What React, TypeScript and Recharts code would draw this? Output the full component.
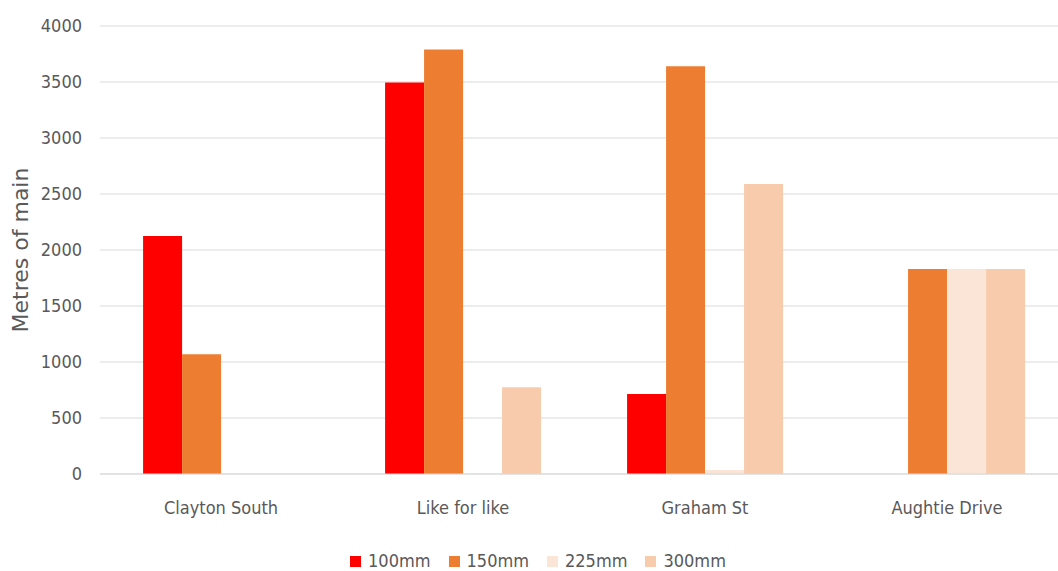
import { BarChart, Bar, XAxis, YAxis, CartesianGrid, Legend } from "recharts";

const sites = ["Clayton South", "Like for like", "Graham St", "Aughtie Drive"];
const mm100 = [2125, 3495, 715, 0];
const mm150 = [1070, 3790, 3640, 1830];
const mm225 = [0, 0, 35, 1830];
const mm300 = [0, 775, 2590, 1830];
const yTicks = [0, 500, 1000, 1500, 2000, 2500, 3000, 3500, 4000];

const series = [
  { key: "100mm", color: "#FF0000" },
  { key: "150mm", color: "#ED7D31" },
  { key: "225mm", color: "#FBE5D6" },
  { key: "300mm", color: "#F8CBAD" },
];

const data = sites.map((name, i) => ({
  name,
  "100mm": mm100[i],
  "150mm": mm150[i],
  "225mm": mm225[i],
  "300mm": mm300[i],
}));

const font = "'DejaVu Sans Condensed', 'DejaVu Sans', sans-serif";

function LegendBox({ payload }: any) {
  return (
    <div style={{ height: 40, paddingTop: 20, paddingLeft: 8, boxSizing: "border-box", display: "flex", justifyContent: "center", fontFamily: font, fontSize: 18, color: "#595959", lineHeight: "22px" }}>
      {(payload || []).map((p: any, i: number) => (
        <div key={p.value} style={{ display: "flex", alignItems: "center", marginLeft: i ? 18 : 0 }}>
          <span style={{ width: 11, height: 11, background: p.color, display: "inline-block", marginRight: 7 }} />
          <span>{p.value}</span>
        </div>
      ))}
    </div>
  );
}

function YLabel({ viewBox }: any) {
  const cy = viewBox.y + viewBox.height / 2;
  return (
    <text x={20} y={cy} transform={`rotate(-90, 20, ${cy})`} textAnchor="middle" dominantBaseline="central"
      fill="#595959" fontSize={22} fontFamily="'DejaVu Sans', sans-serif">
      Metres of main
    </text>
  );
}

export default function App() {
  return (
    <div style={{ position: "absolute", left: 0, top: 0, width: 1058, height: 571, overflow: "hidden", background: "#fff" }}>
      <BarChart width={1068} height={571} data={data} margin={{ top: 26, right: 0, bottom: 0, left: 0 }}
        barCategoryGap="17.8%" barGap={0}>
        <CartesianGrid vertical={false} stroke="#d9d9d9" />
        <XAxis dataKey="name" axisLine={{ stroke: "#d9d9d9" }} tickLine={false} tickSize={0} tickMargin={27} height={57}
          tick={{ fill: "#595959", fontSize: 18, fontFamily: font }} interval={0} />
        <YAxis domain={[0, 4000]} ticks={yTicks} width={100} axisLine={false} tickLine={false} tickSize={0} tickMargin={18}
          tick={{ fill: "#595959", fontSize: 18, fontFamily: font }} label={<YLabel />} />
        <Legend verticalAlign="bottom" height={40} content={<LegendBox />} />
        {series.map((s) => (
          <Bar key={s.key} dataKey={s.key} fill={s.color} isAnimationActive={false} />
        ))}
      </BarChart>
    </div>
  );
}
